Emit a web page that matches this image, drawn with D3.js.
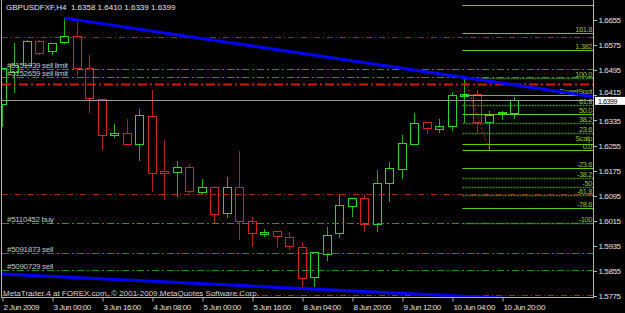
<!DOCTYPE html>
<html>
<head>
<meta charset="utf-8">
<script src="https://cdn.jsdelivr.net/npm/d3@7.9.0/dist/d3.min.js"></script>
<style>
  html, body { margin: 0; padding: 0; background: #000; }
  svg { display: block; }
  text { font-family: "Liberation Sans", Arial, sans-serif; font-size: 8px; white-space: pre; }
  .tight { letter-spacing: -0.4px; }
</style>
</head>
<body>
<svg id="chart" width="625" height="313"></svg>
<script>
// ---- data ----
const symbol = 'GBPUSDFXF,H4';

// H4 candles, oldest first (first one is cut by the left edge)
const opens  = [1.6384, 1.6486, 1.6512, 1.6588, 1.6553, 1.6582, 1.6601, 1.6499, 1.6403, 1.6289,
                1.6295, 1.6260, 1.6349, 1.6174, 1.6168, 1.6184, 1.6107, 1.6123, 1.6037, 1.6120,
                1.6012, 1.5972, 1.5980, 1.5961, 1.5932, 1.5833, 1.5910, 1.5973, 1.6060, 1.6085,
                1.6002, 1.6133, 1.6181, 1.6257, 1.6327, 1.6308, 1.6317, 1.6413, 1.6419, 1.6330,
                1.6357, 1.6358];
const highs  = [1.6501, 1.6582, 1.6591, 1.6591, 1.6582, 1.6661, 1.6649, 1.6544, 1.6403, 1.6324,
                1.6340, 1.6372, 1.6432, 1.6273, 1.6206, 1.6196, 1.6149, 1.6126, 1.6155, 1.6238,
                1.6028, 1.5989, 1.5980, 1.5980, 1.5948, 1.5916, 1.5996, 1.6101, 1.6088, 1.6098,
                1.6177, 1.6203, 1.6289, 1.6359, 1.6329, 1.6340, 1.6426, 1.6470, 1.6432, 1.6365,
                1.6365, 1.6410];
const lows   = [1.6314, 1.6422, 1.6509, 1.6544, 1.6544, 1.6580, 1.6480, 1.6359, 1.6241, 1.6279,
                1.6259, 1.6206, 1.6107, 1.6082, 1.6091, 1.6104, 1.6101, 1.6009, 1.6024, 1.5954,
                1.5932, 1.5964, 1.5929, 1.5923, 1.5805, 1.5805, 1.5888, 1.5961, 1.6028, 1.5980,
                1.5980, 1.6075, 1.6150, 1.6257, 1.6292, 1.6295, 1.6302, 1.6327, 1.6295, 1.6238,
                1.6337, 1.6339];
const closes = [1.6499, 1.6509, 1.6588, 1.6550, 1.6579, 1.6601, 1.6499, 1.6403, 1.6289, 1.6295,
                1.6260, 1.6352, 1.6168, 1.6168, 1.6184, 1.6107, 1.6123, 1.6037, 1.6120, 1.6012,
                1.5973, 1.5977, 1.5964, 1.5932, 1.5833, 1.5913, 1.5970, 1.6063, 1.6085, 1.6002,
                1.6133, 1.6181, 1.6263, 1.6324, 1.6308, 1.6317, 1.6416, 1.6419, 1.6330, 1.6352,
                1.6359, 1.6399];

const timeTickBars = [0, 4, 8, 12, 16, 20, 24, 28, 32, 36, 40];
const timeLabels = ['2 Jun 2009', '3 Jun 00:00', '3 Jun 16:00', '4 Jun 08:00', '5 Jun 00:00',
                    '5 Jun 16:00', '8 Jun 04:00', '8 Jun 20:00', '9 Jun 12:00', '10 Jun 04:00',
                    '10 Jun 20:00'];
const priceTicks = [1.6655, 1.6575, 1.6495, 1.6415, 1.6335, 1.6255, 1.6175, 1.6095,
                    1.6015, 1.5935, 1.5855, 1.5775];

// pending orders / stop lines
const orderPrices  = [1.6599, 1.6498, 1.6473, 1.6451, 1.6098, 1.6008, 1.5910, 1.5856, 1.5778];
const orderKinds   = ['stop', 'sell limit', 'sell limit', 'stop2', 'stop', 'buy', 'sell', 'sell', 'stop'];
const orderTickets = ['', '#5151939', '#5152659', '', '', '#5110452', '#5091873', '#5090729', ''];

// trend lines [bar, price]
const trendUpper = [[5, 1.6661], [41, 1.6448]];
const trendLower = [[0, 1.5846], [41, 1.5767]];

// fibonacci from the swing high to the swing low
const fibFrom = [37, 1.6470];
const fibTo   = [39, 1.6238];
const fibLevels = [200, 161.8, 138.2, 100, 76.4, 61.8, 50, 38.2, 23.6, 9, 0, -23.6, -38.2, -50, -61.8, -78.6, -100];
const fibLabels = ['', '161.8', '1.382', '100.0', 'SweetSpot', '61.8', '50.0', '38.2', '23.6', 'Scalp', '0.0',
                   '-23.6', '-38.2', '-50', '-61.8', '-78.6', '-100'];

// ---- layout ----
const width = 625, height = 313;
const plot = { left: 2, right: 593.5, top: 0, bottom: 297.5 };

const svg = d3.select('#chart');
svg.append('rect').attr('width', width).attr('height', height).attr('fill', '#000');

const x = d3.scaleLinear().domain([0, 40]).range([2, 502]);
const y = d3.scaleLinear().domain([1.5775, 1.6655]).range([296.3, 20]);

svg.append('clipPath').attr('id', 'plot')
  .append('rect')
  .attr('x', plot.left).attr('y', plot.top)
  .attr('width', plot.right - plot.left).attr('height', plot.bottom - plot.top);

const bars = opens.map((o, i) => ({ i, o, h: highs[i], l: lows[i], c: closes[i], up: closes[i] >= o }));
const px = v => Math.floor(v) + 0.5;

// candles
const candles = svg.append('g').attr('clip-path', 'url(#plot)').attr('shape-rendering', 'crispEdges');
candles.selectAll('line')
  .data(bars)
  .join('line')
  .attr('x1', d => px(x(d.i))).attr('x2', d => px(x(d.i)))
  .attr('y1', d => y(d.h)).attr('y2', d => y(d.l))
  .attr('stroke', d => d.up ? '#18b418' : '#bf1c1c');

candles.selectAll('rect')
  .data(bars)
  .join('rect')
  .attr('x', d => px(x(d.i)) - 4)
  .attr('width', 8)
  .attr('y', d => px(y(Math.max(d.o, d.c))))
  .attr('height', d => Math.max(1, Math.round(Math.abs(y(d.o) - y(d.c)))))
  .attr('fill', '#000')
  .attr('stroke', d => d.up ? '#22dc22' : '#dc2020');

// objects
const objs = svg.append('g').attr('clip-path', 'url(#plot)');

// order lines
const orderStyle = {
  'stop':       { color: '#a8240e', w: 1, dash: '6,3,1,3' },
  'stop2':      { color: '#d41a0a', w: 2, dash: '9,3,2,3' },
  'sell limit': { color: '#1e9e1e', w: 1, dash: '7,3,2,3' },
  'buy':        { color: '#1e9e1e', w: 1, dash: '7,3,2,3' },
  'sell':       { color: '#1a941a', w: 1, dash: '7,3,2,3' }
};
const orders = orderPrices.map((p, i) => ({ p, kind: orderKinds[i], ticket: orderTickets[i] }));
objs.selectAll('line.order')
  .data(orders)
  .join('line')
  .attr('class', 'order')
  .attr('x1', plot.left).attr('x2', plot.right)
  .attr('y1', d => px(y(d.p))).attr('y2', d => px(y(d.p)))
  .attr('stroke', d => orderStyle[d.kind].color)
  .attr('stroke-width', d => orderStyle[d.kind].w)
  .attr('stroke-dasharray', d => orderStyle[d.kind].dash);

// bid line
const bid = closes[closes.length - 1];
objs.append('line')
  .attr('x1', plot.left).attr('x2', plot.right)
  .attr('y1', px(y(bid))).attr('y2', px(y(bid)))
  .attr('stroke', '#9a9a9a');

// fibonacci
const fibRange = fibFrom[1] - fibTo[1];
const dottedLevels = new Set([100, 61.8, 38.2, 23.6, -38.2, -50, -61.8, -100]);
const fib = fibLevels.map((lv, i) => ({ lv, label: fibLabels[i], p: fibTo[1] + fibRange * lv / 100 }));

objs.append('line')
  .attr('x1', x(fibFrom[0])).attr('y1', y(fibFrom[1]))
  .attr('x2', x(fibTo[0])).attr('y2', y(fibTo[1]))
  .attr('stroke', '#c81414')
  .attr('stroke-dasharray', '2,2');

objs.selectAll('line.fib')
  .data(fib)
  .join('line')
  .attr('class', 'fib')
  .attr('x1', x(fibFrom[0]) - 2).attr('x2', plot.right)
  .attr('y1', d => px(y(d.p))).attr('y2', d => px(y(d.p)))
  .attr('stroke', d => dottedLevels.has(d.lv) ? '#3f8e18' : '#62cc08')
  .attr('stroke-width', d => dottedLevels.has(d.lv) ? 1.6 : 1)
  .attr('stroke-dasharray', d => dottedLevels.has(d.lv) ? '2,1' : null);

objs.selectAll('text.fib')
  .data(fib.filter(d => d.label))
  .join('text')
  .attr('class', 'fib tight')
  .attr('x', 592)
  .attr('y', d => y(d.p) - (d.lv === 9 ? 3 : 1.5))
  .attr('text-anchor', 'end')
  .attr('fill', '#8fc43a')
  .style('font-size', '7.5px')
  .text(d => d.label);

// trend lines (rays)
function trendPath(pts, from, to) {
  const [[x1, p1], [x2, p2]] = pts;
  const slope = (p2 - p1) / (x2 - x1);
  return [[from, p1 + slope * (from - x1)], [to, p1 + slope * (to - x1)]];
}
const line = d3.line().x(d => x(d[0])).y(d => y(d[1]));
objs.append('path')
  .attr('d', line(trendPath(trendUpper, trendUpper[0][0], 48)))
  .attr('stroke', '#0000ff').attr('stroke-width', 3).attr('fill', 'none');
objs.append('path')
  .attr('d', line(trendPath(trendLower, -1, 48)))
  .attr('stroke', '#0000ff').attr('stroke-width', 3).attr('fill', 'none');

// order labels
objs.selectAll('text.order')
  .data(orders.filter(d => d.ticket))
  .join('text')
  .attr('class', 'order')
  .attr('x', 7)
  .attr('y', d => y(d.p) - 1.5)
  .attr('fill', '#c4c4c4')
  .style('letter-spacing', '-0.3px')
  .text(d => `${d.ticket} ${d.kind}`);

// title and copyright
svg.append('text')
  .attr('x', 6).attr('y', 10)
  .attr('fill', '#e6e6e6')
  .text(`${symbol}  ${[opens, highs, lows, closes].map(a => a[a.length - 1].toFixed(4)).join(' ')}`);

svg.append('text')
  .attr('x', 3).attr('y', 296)
  .attr('fill', '#d0d0d0')
  .text('MetaTrader 4 at FOREX.com, \u00a9 2001-2009 MetaQuotes Software Corp.');

// frame
const frame = svg.append('g').attr('stroke', '#b4b4b4').attr('shape-rendering', 'crispEdges');
frame.append('line').attr('x1', 1.5).attr('x2', 1.5).attr('y1', 0).attr('y2', plot.bottom);
frame.append('line').attr('x1', 1.5).attr('x2', plot.right).attr('y1', plot.bottom).attr('y2', plot.bottom);
frame.append('line').attr('x1', plot.right).attr('x2', plot.right).attr('y1', 0).attr('y2', plot.bottom);

// axes
const yAxis = svg.append('g')
  .attr('transform', `translate(${plot.right},0)`)
  .call(d3.axisRight(y).tickValues(priceTicks).tickFormat(d3.format('.4f')).tickSize(3).tickPadding(2));
yAxis.select('.domain').remove();
yAxis.selectAll('line').attr('stroke', '#b4b4b4').attr('shape-rendering', 'crispEdges');
yAxis.selectAll('text').attr('fill', '#e0e0e0').attr('class', 'tight')
  .attr('dy', d => d === 1.6415 ? '-0.05em' : '0.32em')
  .style('font-size', '8px').style('font-family', '"Liberation Sans", Arial, sans-serif');

const xAxis = svg.append('g')
  .attr('transform', `translate(0,${plot.bottom})`)
  .call(d3.axisBottom(x).tickValues(timeTickBars).tickFormat((d, i) => timeLabels[i]).tickSize(4).tickPadding(3));
xAxis.select('.domain').remove();
xAxis.selectAll('.tick line').attr('stroke', '#b4b4b4').attr('transform', 'translate(0.5,0)');
xAxis.selectAll('text').attr('fill', '#e0e0e0').attr('text-anchor', 'start').attr('dx', 1).attr('class', 'tight')
  .style('font-size', '8px').style('font-family', '"Liberation Sans", Arial, sans-serif');

// bid label on the price scale
const bidTag = svg.append('g').attr('transform', `translate(595,${y(bid)})`);
bidTag.append('rect').attr('x', 0).attr('y', -3.5).attr('width', 30).attr('height', 8).attr('fill', '#fff');
bidTag.append('text').attr('class', 'tight').attr('x', 3).attr('y', 3.3).attr('fill', '#000')
  .style('font-size', '7px').text(bid.toFixed(4));
</script>
</body>
</html>
